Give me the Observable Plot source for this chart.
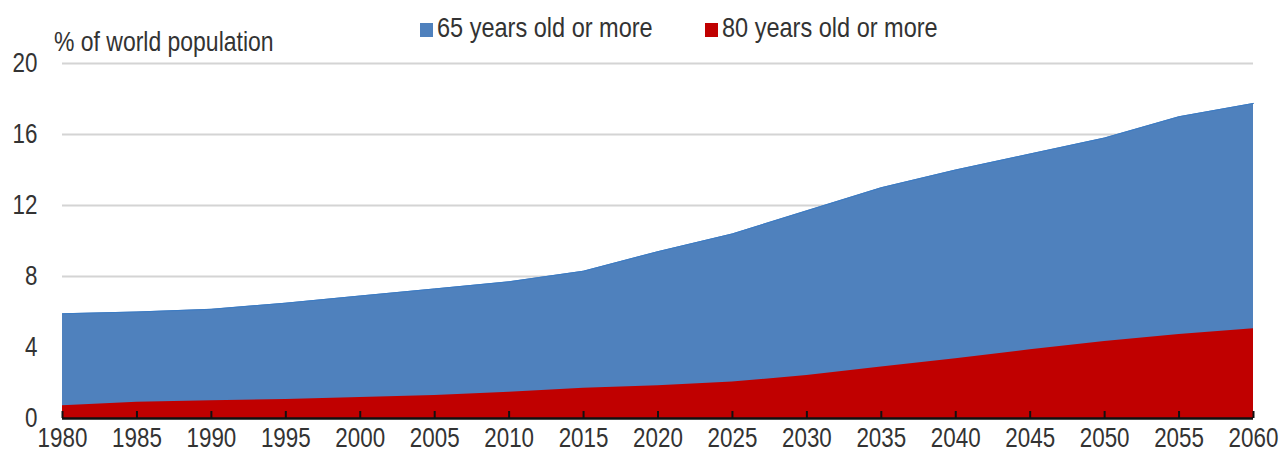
<!DOCTYPE html>
<html>
<head>
<meta charset="utf-8">
<script src="https://cdn.jsdelivr.net/npm/d3@7"></script>
<script src="https://cdn.jsdelivr.net/npm/@observablehq/plot@0.6"></script>
<style>
  html, body { margin: 0; padding: 0; background: #fff; }
  body { width: 1284px; height: 452px; overflow: hidden; font-family: "Liberation Sans", Arial, sans-serif; color: #333; }
  #head { position: relative; height: 50px; font-size: 28px; }
  #ylab { position: absolute; left: 54px; top: 27px; line-height: 30px; transform: scaleX(0.82); transform-origin: left center; white-space: nowrap; }
  .leg { position: absolute; top: 13px; line-height: 30px; white-space: nowrap; }
  .sw { display: inline-block; width: 13px; height: 14px; margin-right: 4px; vertical-align: 0px; }
  .lt { display: inline-block; transform: scaleX(0.84); transform-origin: left center; }
  #chart svg { display: block; }
</style>
</head>
<body>
<div id="head">
  <div id="ylab">% of world population</div>
  <div class="leg" style="left:420px"><span class="sw" style="background:#4F81BD"></span><span class="lt">65 years old or more</span></div>
  <div class="leg" style="left:705px"><span class="sw" style="background:#C00000"></span><span class="lt">80 years old or more</span></div>
</div>
<div id="chart"></div>
<script>
const years = [1980,1985,1990,1995,2000,2005,2010,2015,2020,2025,2030,2035,2040,2045,2050,2055,2060];
const age65 = [5.9,6.0,6.15,6.5,6.9,7.3,7.7,8.3,9.4,10.4,11.7,13.0,14.0,14.9,15.8,17.0,17.75];
const age80 = [0.72,0.92,1.0,1.07,1.18,1.3,1.48,1.7,1.84,2.05,2.42,2.9,3.36,3.87,4.34,4.73,5.05];
const yTicks = [0,4,8,12,16,20];
const gridTicks = [4,8,12,16,20];

const d65 = years.map((y,i) => ({year: y, value: age65[i]}));
const d80 = years.map((y,i) => ({year: y, value: age80[i]}));

const font = '"Liberation Sans", Arial, sans-serif';

const chart = Plot.plot({
  width: 1284,
  height: 402,
  marginTop: 13,
  marginBottom: 34,
  marginLeft: 62,
  marginRight: 31,
  style: {fontFamily: font, fontSize: "28px", color: "#333", background: "#fff", overflow: "visible"},
  x: {domain: [1980, 2060], ticks: years, tickFormat: d => String(d)},
  y: {domain: [0, 20], ticks: yTicks},
  marks: [
    Plot.ruleY(gridTicks, {y: d => d, stroke: "#d4d4d4", strokeWidth: 2}),
    Plot.areaY(d65, {x: "year", y: "value", fill: "#4F81BD"}),
    Plot.lineY(d65, {x: "year", y: "value", stroke: "#3b7bc4", strokeWidth: 1}),
    Plot.areaY(d80, {x: "year", y: "value", fill: "#C00000"}),
    Plot.ruleX(years, {x: d => d, stroke: "#111", strokeWidth: 2, insetTop: 348}),
    Plot.ruleY([0], {stroke: "#111", strokeWidth: 2.5}),
    Plot.axisX({ticks: years, tickSize: 0, tickPadding: 9, tickFormat: d => String(d), fill: "#333", label: null}),
    Plot.axisY({ticks: yTicks, tickSize: 0, tickPadding: 25, fill: "#333", label: null})
  ]
});
document.getElementById("chart").appendChild(chart);
// condense glyphs horizontally (about the text anchor) to mimic a narrow typeface
chart.querySelectorAll("text").forEach(t => {
  const tr = t.getAttribute("transform") || "";
  t.setAttribute("transform", (tr + " scale(0.8,1)").trim());
});
</script>
</body>
</html>
